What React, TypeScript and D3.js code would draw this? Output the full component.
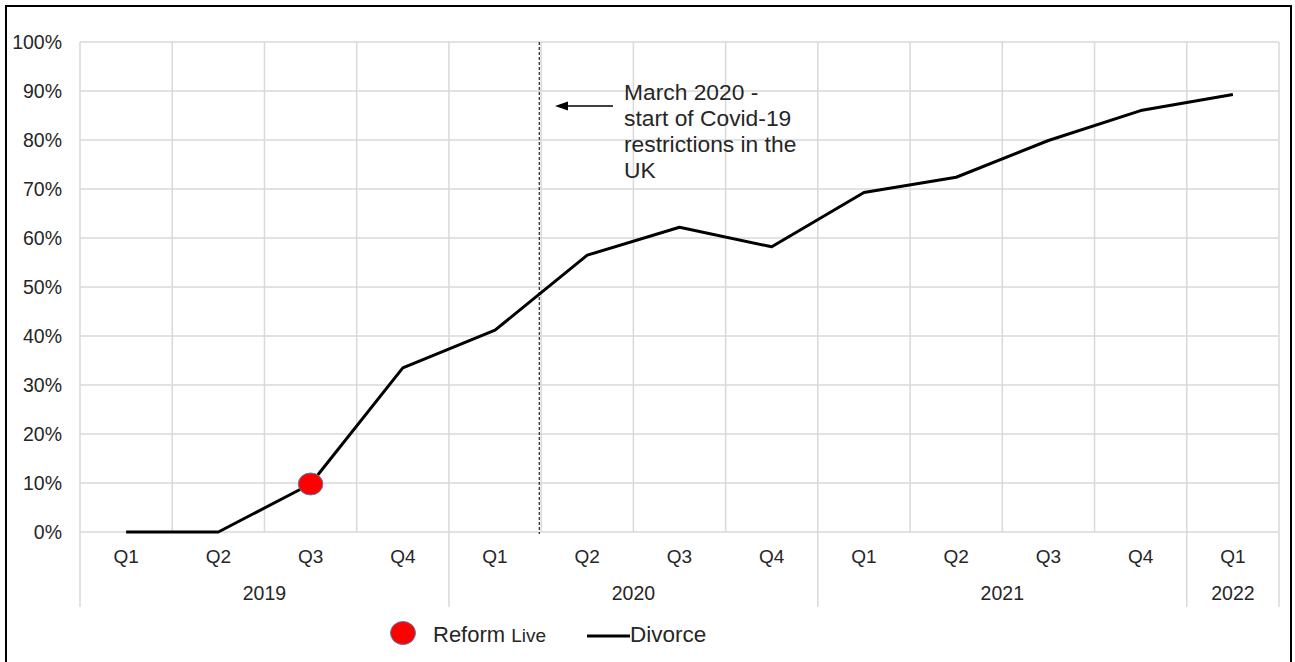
import React from "react";
import * as d3 from "d3";

const quarters = ["Q1", "Q2", "Q3", "Q4", "Q1", "Q2", "Q3", "Q4", "Q1", "Q2", "Q3", "Q4", "Q1"];
const years = ["2019", "2019", "2019", "2019", "2020", "2020", "2020", "2020", "2021", "2021", "2021", "2021", "2022"];
const divorce = [0, 0, 9.8, 33.5, 41.2, 56.5, 62.2, 58.2, 69.3, 72.4, 79.9, 86.0, 89.3];
const reformIndex = 2;
const yTicks = [0, 10, 20, 30, 40, 50, 60, 70, 80, 90, 100];
const covidPos = 4.98; // category position (in bands) of March 2020
const annotationLines = ["March 2020 -", "start of Covid-19", "restrictions in the", "UK"];

const W = 1295;
const H = 662;
const FONT = "'Liberation Sans', Arial, sans-serif";

export default function App() {
  const keys = quarters.map((_, i) => String(i));
  const x = d3.scaleBand<string>().domain(keys).range([80, 1279]).padding(0);
  const y = d3.scaleLinear().domain([0, 100]).range([532, 42]);
  const bw = x.bandwidth();
  const cx = (i: number) => (x(String(i)) as number) + bw / 2;

  const line = d3
    .line<number>()
    .x((_, i) => cx(i))
    .y((d) => y(d));

  const groups: { year: string; start: number; end: number }[] = [];
  years.forEach((yr, i) => {
    const g = groups[groups.length - 1];
    if (g && g.year === yr) g.end = i;
    else groups.push({ year: yr, start: i, end: i });
  });
  const groupEdges = new Set<number>();
  groups.forEach((g) => {
    groupEdges.add(g.start);
    groupEdges.add(g.end + 1);
  });

  const covidX = 80 + covidPos * bw;
  const txt = "#262626";

  return (
    <svg
      width={W}
      height={H}
      style={{ position: "absolute", left: 0, top: 0, background: "#fff" }}
      fontFamily={FONT}
    >
      <rect x={0} y={0} width={W} height={H} fill="#fff" />
      <rect x={6} y={6} width={1285} height={700} fill="none" stroke="#000" strokeWidth={2} />

      {yTicks.map((t) => (
        <line key={"h" + t} x1={80} x2={1279} y1={y(t)} y2={y(t)} stroke="#d9d9d9" strokeWidth={1.5} />
      ))}
      {d3.range(quarters.length + 1).map((i) => {
        const xx = 80 + i * bw;
        return (
          <line
            key={"v" + i}
            x1={xx}
            x2={xx}
            y1={42}
            y2={groupEdges.has(i) ? 607 : 532}
            stroke="#d9d9d9"
            strokeWidth={1.5}
          />
        );
      })}

      {yTicks.map((t) => (
        <text key={"yt" + t} x={62} y={y(t) + 6.5} textAnchor="end" fontSize={19.5} fill={txt}>
          {t + "%"}
        </text>
      ))}

      {quarters.map((q, i) => (
        <text key={"q" + i} x={cx(i)} y={563} textAnchor="middle" fontSize={19} fill={txt}>
          {q}
        </text>
      ))}
      {groups.map((g) => (
        <text
          key={"g" + g.year}
          x={80 + ((g.start + g.end + 1) / 2) * bw}
          y={600}
          textAnchor="middle"
          fontSize={19.5}
          fill={txt}
        >
          {g.year}
        </text>
      ))}

      <line x1={covidX} x2={covidX} y1={42} y2={534} stroke="#333" strokeWidth={1.3} strokeDasharray="3,2" />

      <path d={line(divorce) || ""} fill="none" stroke="#000" strokeWidth={3} strokeLinejoin="round" />

      <ellipse cx={cx(reformIndex)} cy={y(divorce[reformIndex])} rx={12.3} ry={11} fill="#ff0000" stroke="#5b7bb0" strokeWidth={1} />

      <line x1={613} x2={566} y1={106} y2={106} stroke="#000" strokeWidth={1.5} />
      <path d="M555,106 L568,101.5 L568,110.5 Z" fill="#000" />
      {annotationLines.map((l, i) => (
        <text key={"a" + i} x={624} y={100 + i * 26} fontSize={22.8} fill={txt}>
          {l}
        </text>
      ))}

      <ellipse cx={403} cy={633} rx={12.5} ry={11.5} fill="#ff0000" stroke="#5b7bb0" strokeWidth={1} />
      <text x={433} y={642} fontSize={22} fill={txt}>
        Reform <tspan fontSize={19}>Live</tspan>
      </text>
      <line x1={587} x2={630} y1={636} y2={636} stroke="#000" strokeWidth={3} />
      <text x={630} y={642} fontSize={22.5} fill={txt}>
        Divorce
      </text>
    </svg>
  );
}
